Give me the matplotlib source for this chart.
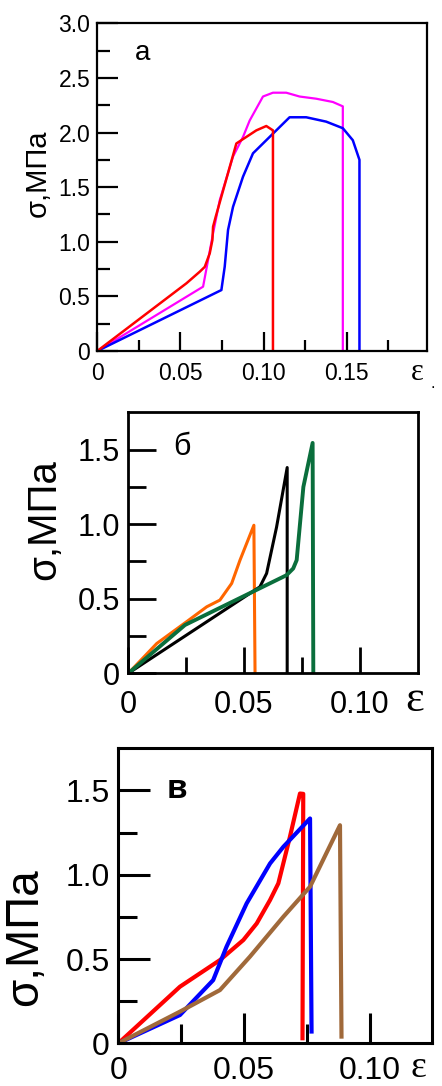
import matplotlib
matplotlib.use("Agg")
import matplotlib.pyplot as plt

plt.rcParams['font.family'] = ['Liberation Sans', 'DejaVu Sans']

# panel a: strain / stress curves
a_red_x = [0, 0.0536, 0.0616, 0.0646, 0.0676, 0.0692, 0.0696, 0.0712, 0.0836, 0.0896, 0.0956, 0.1016, 0.1056, 0.1056]
a_red_y = [0, 0.62, 0.726, 0.77, 0.894, 1.016, 1.138, 1.23, 1.90, 1.96, 2.02, 2.06, 2.02, 0]
a_mag_x = [0, 0.0636, 0.0696, 0.0736, 0.0816, 0.0876, 0.0916, 0.0996, 0.1056, 0.1136, 0.1216, 0.1316, 0.1416, 0.1476, 0.1476]
a_mag_y = [0, 0.589, 1.077, 1.38, 1.78, 1.96, 2.11, 2.33, 2.365, 2.365, 2.33, 2.31, 2.28, 2.24, 0]
a_blue_x = [0, 0.0746, 0.0766, 0.0786, 0.0816, 0.0876, 0.0936, 0.0996, 0.1056, 0.1156, 0.1256, 0.1376, 0.1476, 0.1536, 0.1576, 0.1576]
a_blue_y = [0, 0.558, 0.772, 1.108, 1.32, 1.596, 1.81, 1.90, 1.99, 2.14, 2.14, 2.10, 2.04, 1.93, 1.75, 0]

# panel b
b_orange_x = [0, 0.0123, 0.0252, 0.0339, 0.0396, 0.0447, 0.0483, 0.0543, 0.0548]
b_orange_y = [0, 0.20, 0.346, 0.446, 0.491, 0.603, 0.759, 0.993, 0]
b_black_x = [0, 0.0569, 0.0598, 0.0641, 0.0687, 0.0687]
b_black_y = [0, 0.58, 0.67, 0.98, 1.38, 0]
b_green_x = [0, 0.0245, 0.0684, 0.0713, 0.0728, 0.0757, 0.0797, 0.0800]
b_green_y = [0, 0.324, 0.658, 0.703, 0.759, 1.25, 1.545, 0]

# panel c
c_red_x = [0, 0.0245, 0.0404, 0.0497, 0.055, 0.0603, 0.0636, 0.0682, 0.0722, 0.0735, 0.0732]
c_red_y = [0, 0.336, 0.494, 0.613, 0.711, 0.85, 0.949, 1.225, 1.482, 1.48, 0.03]
c_blue_x = [0, 0.0245, 0.0377, 0.043, 0.051, 0.0603, 0.0656, 0.0762, 0.0768]
c_blue_y = [0, 0.168, 0.375, 0.573, 0.83, 1.067, 1.166, 1.334, 0.07]
c_brown_x = [0, 0.0245, 0.0404, 0.0523, 0.0656, 0.0762, 0.0881, 0.0887]
c_brown_y = [0, 0.188, 0.316, 0.514, 0.751, 0.929, 1.294, 0.04]

a_yticks = [0, 0.5, 1.0, 1.5, 2.0, 2.5, 3.0]
a_ylabels = ['0', '0.5', '1.0', '1.5', '2.0', '2.5', '3.0']
a_xticks = [0, 0.05, 0.10, 0.15]
a_xlabels = ['0', '0.05', '0.10', '0.15']
bc_yticks = [0, 0.5, 1.0, 1.5]
bc_ylabels = ['0', '0.5', '1.0', '1.5']
bc_xticks = [0, 0.05, 0.10]
bc_xlabels = ['0', '0.05', '0.10']

fig = plt.figure(figsize=(4.42, 10.86), dpi=100)


def setup(ax, xlim, ylim, xt, xl, yt, yl, ymin, xmin, fs, spw, ylen, xlen, xpad, ypad):
    ax.set_xlim(*xlim)
    ax.set_ylim(*ylim)
    ax.set_xticks(xt)
    ax.set_xticklabels(xl)
    ax.set_yticks(yt)
    ax.set_yticklabels(yl)
    ax.set_xticks(xmin, minor=True)
    ax.set_yticks(ymin, minor=True)
    for s in ax.spines.values():
        s.set_linewidth(spw)
    ax.tick_params(axis='y', which='major', direction='in', length=ylen[0], width=spw,
                   labelsize=fs, pad=ypad)
    ax.tick_params(axis='y', which='minor', direction='in', length=ylen[1], width=spw)
    ax.tick_params(axis='x', which='major', direction='in', length=xlen[0], width=spw,
                   labelsize=fs, pad=xpad)
    ax.tick_params(axis='x', which='minor', direction='in', length=xlen[1], width=spw)


# ---- a ----
ax1 = fig.add_axes([0.2201, 0.6768, 0.7452, 0.3017])
ax1.plot(a_mag_x, a_mag_y, color='#ff00ff', lw=1.6)
ax1.plot(a_blue_x, a_blue_y, color='#0000ff', lw=1.8)
ax1.plot(a_red_x, a_red_y, color='#ff0000', lw=1.8)
setup(ax1, (0, 0.198), (0, 3.0), a_xticks, a_xlabels, a_yticks, a_ylabels,
      [0.25, 0.75, 1.25, 1.75, 2.25, 2.75], [0.025, 0.075, 0.125, 0.175], 16.5, 1.6,
      (15, 9), (13.5, 8), 8, 5)
ax1.set_ylabel('σ,МПа', fontsize=21)
ax1.yaxis.set_label_coords(-0.1375, 0.543)
ax1.text(0.136, 0.909, 'а', transform=ax1.transAxes, fontsize=20, ha='center', va='center')
ax1.text(0.971, -0.067, 'ε', transform=ax1.transAxes, fontsize=22, ha='center', va='center',
         family='Liberation Serif')
ax1.text(1.019, -0.10, '.', transform=ax1.transAxes, fontsize=12, ha='center', va='center')

# ---- б ----
ax2 = fig.add_axes([0.2903, 0.38, 0.6561, 0.2403])
ax2.plot(b_orange_x, b_orange_y, color='#ff6600', lw=2.2)
ax2.plot(b_black_x, b_black_y, color='#000000', lw=2.2)
ax2.plot(b_green_x, b_green_y, color='#0a6e3c', lw=2.8)
setup(ax2, (0, 0.1254), (0, 1.75), bc_xticks, bc_xlabels, bc_yticks, bc_ylabels,
      [0.25, 0.75, 1.25], [0.025, 0.075], 22, 2.0, (20, 13), (19, 11.5), 12, 6)
ax2.set_ylabel('σ,МПа', fontsize=29)
ax2.yaxis.set_label_coords(-0.225, 0.59)
ax2.text(0.184, 0.868, 'б', transform=ax2.transAxes, fontsize=22, ha='center', va='center')
ax2.text(0.989, -0.102, 'ε', transform=ax2.transAxes, fontsize=32, ha='center', va='center',
         family='Liberation Serif')

# ---- в ----
ax3 = fig.add_axes([0.2677, 0.0393, 0.7104, 0.2716])
ax3.plot(c_red_x, c_red_y, color='#ff0000', lw=3)
ax3.plot(c_blue_x, c_blue_y, color='#0000ff', lw=3)
ax3.plot(c_brown_x, c_brown_y, color='#a0693a', lw=3)
setup(ax3, (0, 0.1248), (0, 1.75), bc_xticks, bc_xlabels, bc_yticks, bc_ylabels,
      [0.25, 0.75, 1.25], [0.025, 0.075], 23, 2.2, (23, 14), (21.5, 13.5), 9, 6)
ax3.set_ylabel('σ,МПа', fontsize=33)
ax3.yaxis.set_label_coords(-0.228, 0.36)
ax3.text(0.186, 0.859, 'в', transform=ax3.transAxes, fontsize=24, ha='center', va='center',
         fontweight='bold')
ax3.text(0.955, -0.082, 'ε', transform=ax3.transAxes, fontsize=27, ha='center', va='center',
         family='Liberation Serif')

fig.savefig('out.png', dpi=100)
